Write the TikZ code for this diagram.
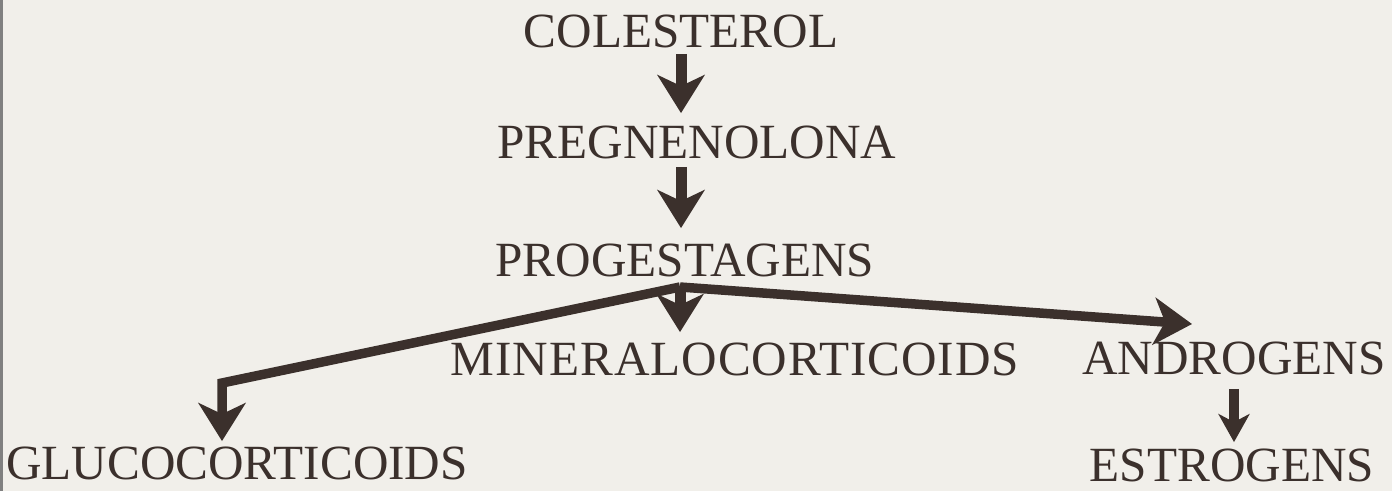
\documentclass[tikz,border=0pt]{standalone}
\usepackage{fontspec}
\setmainfont{Liberation Serif}
\usetikzlibrary{arrows.meta}
\definecolor{paper}{HTML}{F1EFEA}
\definecolor{ink}{HTML}{3B302C}

\begin{document}
\begin{tikzpicture}[
  x=0.02cm, y=-0.02cm,
  steroid/.style={inner sep=0pt, anchor=base, text=ink, font=\fontsize{28}{30}\selectfont},
  fatarrow/.style={draw=ink, line width=0.22cm, -{Stealth[length=0.76cm, width=0.94cm, inset=0.22cm]}},
  branch/.style={draw=ink, line width=0.19cm, miter limit=10, -{Stealth[length=0.76cm, width=0.94cm, inset=0.22cm]}},
  smallarrow/.style={draw=ink, line width=0.2cm, -{Stealth[length=0.56cm, width=0.62cm, inset=0.16cm]}}
]
\fill[paper] (0,0) rectangle (1392,491);
\useasboundingbox (0,0) rectangle (1392,491);
\draw[gray, line width=0.06cm] (1.5,0) -- (1.5,491);

% Pathway
\node[steroid] (colesterol) at (681,47) {COLESTEROL};
\node[steroid] (pregnenolona) at (697,158) {PREGNENOLONA};
\node[steroid] (progestagens) at (685,276) {PROGESTAGENS};
\node[steroid] (mineralo) at (735,375) {\addfontfeature{LetterSpace=2}MINERALOCORTICOIDS};
\node[steroid] (androgens) at (1234,374) {ANDROGENS};
\node[steroid] (gluco) at (237,479) {GLUCOCORTICOIDS};
\node[steroid] (estrogens) at (1232,481) {ESTROGENS};

\coordinate (split) at (680,287);
\coordinate (bend) at (222,383);
\coordinate (andtip) at (1192,324);

% Arrows
\draw[fatarrow, shorten <=0.12cm, shorten >=0.24cm] (colesterol) -- (colesterol |- pregnenolona.north);
\draw[fatarrow, shorten <=0.16cm, shorten >=0.3cm] (colesterol |- pregnenolona.south) -- (colesterol |- progestagens.north);
\draw[fatarrow, shorten >=0.2cm] (split) -- (split |- mineralo.north);
\draw[branch, shorten >=0.1cm] (split) -- (bend) -- (bend |- gluco.north);
\draw[branch] (split) -- (andtip);
\draw[smallarrow, shorten <=0.28cm, shorten >=0.12cm] (androgens) -- (androgens |- estrogens.north);
\end{tikzpicture}
\end{document}
